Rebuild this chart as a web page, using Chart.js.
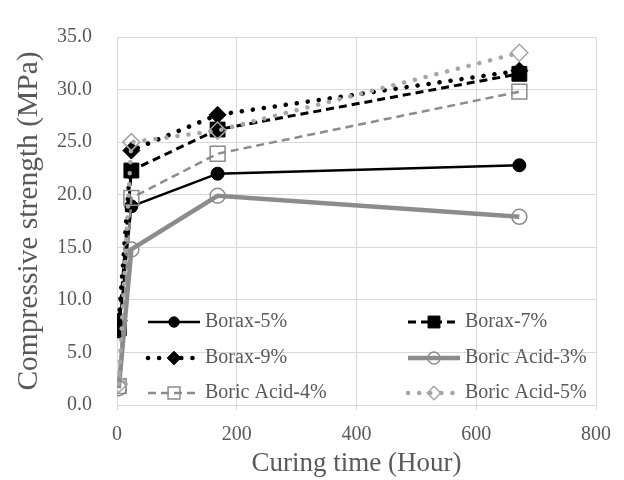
<!DOCTYPE html>
<html>
<head>
<meta charset="utf-8">
<script src="https://cdn.jsdelivr.net/npm/chart.js@4/dist/chart.umd.min.js"></script>
<style>
	html, body { margin: 0; padding: 0; background: #fff; }
	canvas { display: block; }
</style>
</head>
<body>
<canvas id="chart" width="624" height="480"></canvas>
<script>
const hours = [3, 24, 168, 672];
const seriesNames = ["Borax-5%", "Borax-7%", "Borax-9%", "Boric Acid-3%", "Boric Acid-4%", "Boric Acid-5%"];
const borax5 = [7.0, 18.9, 22.0, 22.8];
const borax7 = [7.3, 22.3, 26.2, 31.5];
const borax9 = [8.0, 24.2, 27.6, 31.8];
const boricAcid3 = [1.6, 14.8, 19.9, 17.9];
const boricAcid4 = [1.8, 19.7, 23.9, 29.8];
const boricAcid5 = [2.0, 25.0, 26.1, 33.5];
const yTicks = [0, 5, 10, 15, 20, 25, 30, 35];
const xTicks = [0, 200, 400, 600, 800];

const textColor = "#595959";
const gridColor = "#d9d9d9";
const serif = "'Liberation Serif', 'Times New Roman', serif";

const toPoints = (values) => values.map((v, i) => ({x: hours[i], y: v}));

const styles = [
	{color: "#000000", width: 2.5, dash: [], cap: "butt", pointStyle: "circle", radius: 6.5, fill: "#000000"},
	{color: "#000000", width: 3, dash: [8, 5], cap: "butt", pointStyle: "rect", radius: 10.5, fill: "#000000"},
	{color: "#000000", width: 4.5, dash: [0.1, 11], cap: "round", pointStyle: "rectRot", radius: 8.5, fill: "#000000"},
	{color: "#8c8c8c", width: 4.5, dash: [], cap: "butt", pointStyle: "circle", radius: 7.5, fill: "rgba(255,255,255,0)"},
	{color: "#8c8c8c", width: 2.5, dash: [8, 5], cap: "butt", pointStyle: "rect", radius: 10.5, fill: "rgba(255,255,255,0)"},
	{color: "#a6a6a6", width: 4.5, dash: [0.1, 11], cap: "round", pointStyle: "rectRot", radius: 8.5, fill: "rgba(255,255,255,0)"}
];

const allValues = [borax5, borax7, borax9, boricAcid3, boricAcid4, boricAcid5];

const datasets = allValues.map((values, i) => ({
	label: seriesNames[i],
	data: toPoints(values),
	showLine: true,
	borderColor: styles[i].color,
	borderWidth: styles[i].width,
	borderDash: styles[i].dash,
	borderCapStyle: styles[i].cap,
	pointStyle: styles[i].pointStyle,
	pointRadius: styles[i].radius,
	pointBackgroundColor: styles[i].fill,
	pointBorderColor: styles[i].color,
	pointBorderWidth: i < 3 ? 1 : 1.5,
	tension: 0,
	order: allValues.length - 1 - i
}));

// legend drawn inside the plot, two columns like the original
const insideLegend = {
	id: "insideLegend",
	afterDraw(chart) {
		const {ctx, chartArea} = chart;
		const rows = [chartArea.bottom - 83, chartArea.bottom - 47, chartArea.bottom - 12];
		const cols = [chartArea.left + 31, chartArea.left + 291];
		const legendFont = Chart.helpers.toFont({family: serif, size: 20});
		seriesNames.forEach((name, i) => {
			const st = styles[i];
			const x0 = cols[i % 2];
			const y = rows[Math.floor(i / 2)];
			ctx.save();
			ctx.strokeStyle = st.color;
			ctx.lineWidth = st.width;
			ctx.lineCap = st.cap;
			ctx.setLineDash(st.dash);
			ctx.beginPath();
			ctx.moveTo(x0, y);
			ctx.lineTo(x0 + 52, y);
			ctx.stroke();
			ctx.setLineDash([]);
			ctx.lineCap = "butt";
			ctx.fillStyle = st.fill;
			ctx.lineWidth = i < 3 ? 1 : 1.5;
			Chart.helpers.drawPoint(ctx, {
				pointStyle: st.pointStyle,
				radius: st.radius * 0.8,
				rotation: 0,
				borderWidth: ctx.lineWidth
			}, x0 + 26, y);
			ctx.restore();
			Chart.helpers.renderText(ctx, name, x0 + 57, y, legendFont, {
				color: textColor,
				textAlign: "left",
				textBaseline: "middle"
			});
		});
	}
};

new Chart(document.getElementById("chart"), {
	type: "scatter",
	data: {datasets},
	options: {
		responsive: false,
		animation: false,
		layout: {padding: {top: 15, right: 28, left: 0, bottom: 0}},
		plugins: {
			legend: {display: false},
			tooltip: {enabled: false}
		},
		scales: {
			x: {
				type: "linear",
				min: 0,
				max: 800,
				afterBuildTicks: (scale) => { scale.ticks = xTicks.map((v) => ({value: v})); },
				afterFit: (scale) => { scale.height = 75; },
				ticks: {color: textColor, font: {family: serif, size: 20}, padding: 13},
				grid: {color: gridColor, lineWidth: 1, drawTicks: true, tickLength: 5},
				border: {color: gridColor},
				title: {
					display: true,
					text: "Curing time (Hour)",
					color: textColor,
					font: {family: serif, size: 27},
					padding: {top: -3, bottom: 0}
				}
			},
			y: {
				type: "linear",
				min: 0,
				max: 35,
				afterBuildTicks: (scale) => { scale.ticks = yTicks.map((v) => ({value: v})); },
				afterFit: (scale) => { scale.width = 117; },
				ticks: {
					color: textColor,
					font: {family: serif, size: 20},
					padding: 25,
					callback: (v) => v.toFixed(1)
				},
				grid: {color: gridColor, lineWidth: 1, drawTicks: false},
				border: {color: gridColor},
				title: {
					display: true,
					text: "Compressive strength (MPa)",
					color: textColor,
					font: {family: serif, size: 29.5},
					padding: {top: 12, bottom: 0}
				}
			}
		}
	},
	plugins: [insideLegend]
});
</script>
</body>
</html>
